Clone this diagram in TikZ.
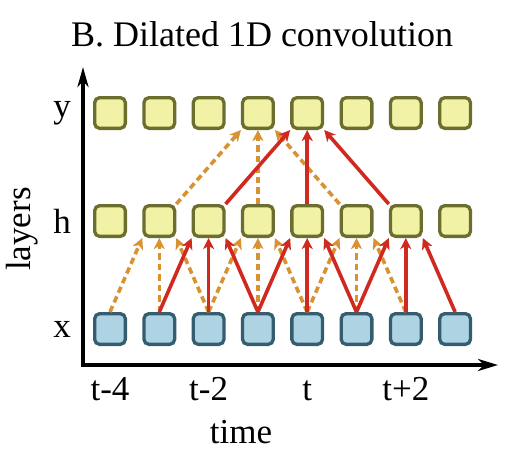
\documentclass[tikz,border=0pt]{standalone}
\usepackage{fontspec}
\setmainfont{Liberation Serif}
\usetikzlibrary{arrows.meta, positioning}
\definecolor{CellYellow}{RGB}{241, 242, 166}
\definecolor{CellYellowEdge}{RGB}{108, 110, 46}
\definecolor{CellBlue}{RGB}{174, 212, 228}
\definecolor{CellBlueEdge}{RGB}{52, 94, 112}
\definecolor{ConvRed}{RGB}{208, 42, 32}
\definecolor{ConvOrange}{RGB}{216, 146, 50}

\tikzset{
  cell/.style={draw, rounded corners=5pt, line width=3.3pt, minimum size=30.7pt, inner sep=0pt},
  cellx/.style={cell, draw=CellBlueEdge, fill=CellBlue},
  cellh/.style={cell, draw=CellYellowEdge, fill=CellYellow},
  convred/.style={draw=ConvRed, line width=3.6pt, -{Stealth[length=11pt, width=11pt, inset=3pt]}},
  convorange/.style={draw=ConvOrange, line width=3.6pt, dash pattern=on 6.5pt off 4pt,
    -{Stealth[length=11pt, width=11pt, inset=3pt]}},
  axisline/.style={line width=4pt, black},
  lbl/.style={font=\fontsize{35}{40}\selectfont, inner sep=0pt}
}

\begin{document}
\begin{tikzpicture}[x=1pt, y=-1pt]
    \useasboundingbox (0,0) rectangle (519,458);

    % title
    \node[lbl, font=\fontsize{36}{40}\selectfont, anchor=base] (title) at (262,46) {B. Dilated 1D convolution};

    % axes
    \coordinate (ytop) at (83,67);
    \coordinate (origin) at (83,365);
    \coordinate (xend) at (498,365);
    \draw[axisline, {Stealth[length=20pt, width=11pt, inset=6pt]}-{Stealth[length=20pt, width=12pt, inset=6pt]}]
      (ytop) -- (origin) -- (xend);

    % layer cells
    \foreach \i in {0,...,7} {
      \node[cellx] (x\i) at ({110+49.3*\i},329) {};
      \node[cellh] (h\i) at ({110+49.3*\i},221) {};
      \node[cellh] (y\i) at ({110+49.3*\i},113) {};
    }

    % layer labels
    \node[lbl] (ylab) at (62,113) {y};
    \node[lbl] (hlab) at (62,221) {h};
    \node[lbl] (xlab) at (62,329) {x};
    \node[lbl, rotate=90] (layers) at (22,229) {layers};

    % time labels
    \foreach \i/\t in {0/t-4, 2/t-2, 4/t, 6/t+2} {
      \node[lbl, anchor=base] (tick\i) at ({110+49.3*\i},400) {\t};
    }
    \node[lbl, anchor=base] (time) at (241,443) {time};

    % first layer: x -> h
    \foreach \j/\l/\r in {1/0/2, 3/2/4, 5/4/6} {
      \draw[convorange] (x\l.north) -- (h\j.south west);
      \draw[convorange] (x\j.north) -- (h\j.south);
      \draw[convorange] (x\r.north) -- (h\j.south east);
    }
    \foreach \j/\l/\r in {2/1/3, 4/3/5, 6/5/7} {
      \draw[convred] (x\l.north) -- (h\j.south west);
      \draw[convred] (x\j.north) -- (h\j.south);
      \draw[convred] (x\r.north) -- (h\j.south east);
    }

    % second layer: h -> y (dilation 2)
    \draw[convorange] (h1.north east) -- (y3.south west);
    \draw[convorange] (h3.north) -- (y3.south);
    \draw[convorange] (h5.north west) -- (y3.south east);
    \draw[convred] (h2.north east) -- (y4.south west);
    \draw[convred] (h4.north) -- (y4.south);
    \draw[convred] (h6.north west) -- (y4.south east);
\end{tikzpicture}
\end{document}
